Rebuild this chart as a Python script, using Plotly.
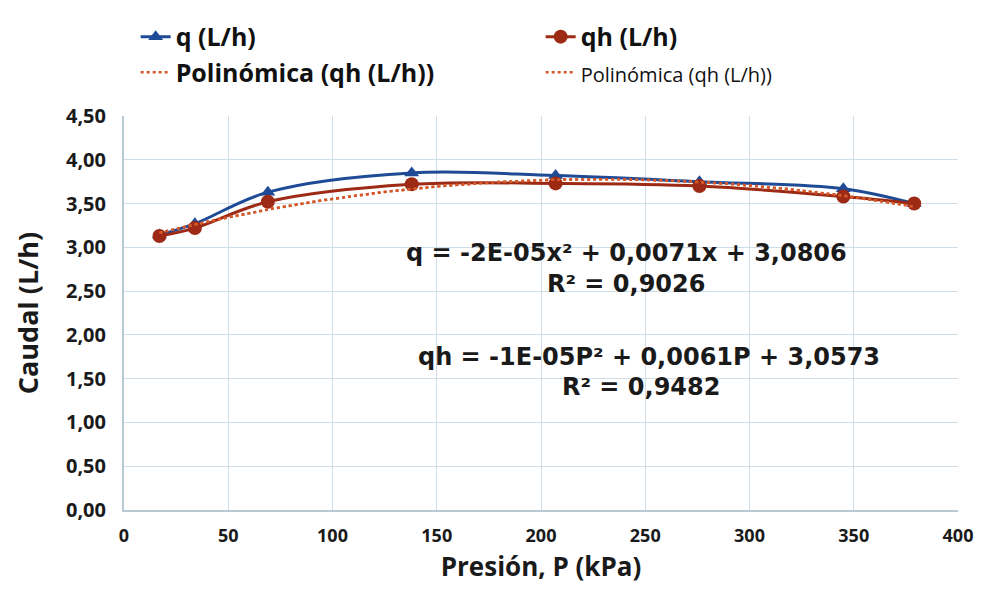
import numpy as np
import plotly.graph_objects as go

# Data
presion = [17, 34, 69, 138, 207, 276, 345, 379]
q_vals = [3.14, 3.27, 3.63, 3.85, 3.82, 3.75, 3.67, 3.50]
qh_vals = [3.13, 3.22, 3.52, 3.72, 3.73, 3.70, 3.58, 3.50]

x_ticks = [0, 50, 100, 150, 200, 250, 300, 350, 400]
y_ticks = [0, 0.5, 1.0, 1.5, 2.0, 2.5, 3.0, 3.5, 4.0, 4.5]

eq_q = "q = -2E-05x² + 0,0071x + 3,0806"
r2_q = "R² = 0,9026"
eq_qh = "qh = -1E-05P² + 0,0061P + 3,0573"
r2_qh = "R² = 0,9482"

# Polynomial (order 2) trendline fitted to the qh data
xs = np.linspace(min(presion), max(presion), 120)
fit_qh = np.polyval(np.polyfit(presion, qh_vals, 2), xs)

BLUE = "#1f4a96"
RED = "#9c2a14"
TREND = "#d4582a"
FONT = "Open Sans"
TXT = "#1a1a1a"

fig = go.Figure()
fig.add_trace(go.Scatter(
    x=presion, y=q_vals, name="q (L/h)", mode="lines+markers",
    line=dict(color=BLUE, width=3, shape="spline"),
    marker=dict(symbol="triangle-up", size=13, color=BLUE)))
fig.add_trace(go.Scatter(
    x=presion, y=qh_vals, name="qh (L/h)", mode="lines+markers",
    line=dict(color=RED, width=3, shape="spline"),
    marker=dict(symbol="circle", size=14, color=RED)))
fig.add_trace(go.Scatter(
    x=xs, y=fit_qh, name="Polinómica (qh (L/h))", mode="lines",
    line=dict(color=TREND, width=2.5, dash="dot")))
fig.add_trace(go.Scatter(
    x=xs, y=fit_qh, name="<span style='font-size:20px;font-weight:normal'>Polinómica (qh (L/h))</span>",
    mode="lines", line=dict(color=TREND, width=2.5, dash="dot")))

ann_font = dict(family="DejaVu Sans", size=24, color=TXT, weight="bold")
for txt, xx, yy in [(eq_q, 241, 2.93), (r2_q, 241, 2.58), (eq_qh, 252, 1.75), (r2_qh, 248, 1.40)]:
    fig.add_annotation(x=xx, y=yy, xref="x", yref="y", text=txt,
                       showarrow=False, font=ann_font)

grid = "#cfdde6"
fig.update_layout(
    width=982, height=591,
    paper_bgcolor="white", plot_bgcolor="white",
    margin=dict(l=116, r=32, t=108, b=89, autoexpand=False),
    separators=",.",
    font=dict(family=FONT, color=TXT),
    showlegend=True,
    legend=dict(orientation="h", x=0.13, xanchor="left", y=0.99, yanchor="top",
                xref="container", yref="container",
                entrywidth=360, entrywidthmode="pixels",
                font=dict(family=FONT, size=25, color="#111", weight="bold"),
                bgcolor="rgba(0,0,0,0)", tracegroupgap=0),
    xaxis=dict(range=[0, 400], tickvals=x_ticks, showgrid=True, gridcolor=grid, gridwidth=1,
               showline=True, linecolor="#b9c9d3", linewidth=2, zeroline=False, automargin=False,
               tickfont=dict(family=FONT, size=18, color=TXT, weight="bold"), ticks="",
               ticklabelstandoff=8,
               title=dict(text="Presión, P (kPa)", font=dict(family=FONT, size=26, color=TXT, weight="bold"), standoff=12)),
    yaxis=dict(range=[0, 4.5], tickvals=y_ticks, tickformat=".2f", showgrid=True, gridcolor=grid, gridwidth=1,
               showline=True, linecolor="#b9c9d3", linewidth=2, zeroline=False, automargin=False,
               tickfont=dict(family=FONT, size=20, color=TXT, weight="bold"), ticks="",
               ticklabelstandoff=12,
               title=dict(text="Caudal (L/h)", font=dict(family=FONT, size=27, color=TXT, weight="bold"), standoff=20)),
)

fig.write_html("out.html")
